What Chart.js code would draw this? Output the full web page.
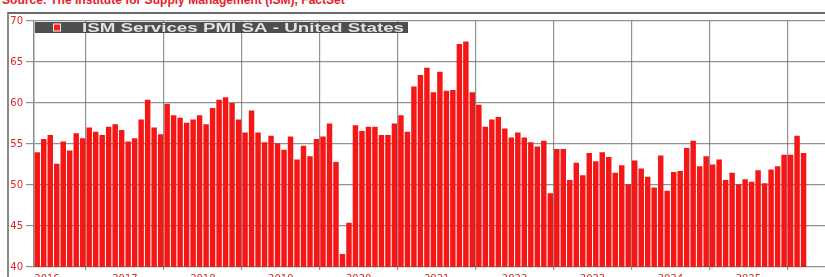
<!DOCTYPE html>
<html>
<head>
<meta charset="utf-8">
<script src="https://cdn.jsdelivr.net/npm/chart.js@4.4.1/dist/chart.umd.min.js"></script>
<style>
  html, body { margin: 0; padding: 0; background: #fff; overflow: hidden; }
  #wrap { position: relative; width: 825px; height: 290px; }
  #frame { position: absolute; left: 7px; top: 12px; width: 830px; height: 300px;
           border-top: 2px solid #6a6a6a; border-left: 2px solid #8a8a8a; }
  #source { position: absolute; left: 2px; top: -8px; white-space: nowrap;
            font: bold 13px "Liberation Sans", Arial, sans-serif; color: #e8202a;
            transform-origin: 0 0; }
  #chartBox { position: absolute; left: 0; top: 0; width: 825px; height: 290px; }
</style>
</head>
<body>
<div id="wrap">
  <div id="source">Source: The Institute for Supply Management (ISM), FactSet</div>
  <div id="frame"></div>
  <div id="chartBox"><canvas id="pmiChart"></canvas></div>
</div>
<script>
// monthly ISM Services PMI
const seriesName = 'ISM Services PMI SA - United States';
const startYear = 2016, startMonth = 5;   // first bar in the picture
const pmiValues = [
  54.0, 55.6, 56.1, 52.6, 55.3, 54.2, 56.3, 55.7, 57.0, 56.5, 56.1, 57.1,
  57.4, 56.7, 55.3, 55.7, 58.0, 60.4, 57.0, 56.2, 59.9, 58.5, 58.2, 57.6,
  58.0, 58.5, 57.4, 59.4, 60.4, 60.7, 60.0, 58.0, 56.4, 59.1, 56.4, 55.2,
  56.0, 55.1, 54.3, 55.9, 53.1, 54.8, 53.5, 55.6, 55.9, 57.5, 52.8, 41.6,
  45.4, 57.3, 56.6, 57.1, 57.1, 56.1, 56.1, 57.5, 58.5, 56.5, 62.0, 63.4,
  64.3, 61.3, 63.8, 61.5, 61.6, 67.2, 67.5, 61.3, 59.8, 57.1, 58.0, 58.3,
  56.9, 55.8, 56.4, 55.8, 55.2, 54.7, 55.4, 49.0, 54.4, 54.4, 50.6, 52.7,
  51.2, 53.9, 52.9, 54.0, 53.4, 51.5, 52.4, 50.1, 53.0, 52.0, 51.0, 49.7,
  53.6, 49.3, 51.6, 51.7, 54.5, 55.4, 52.3, 53.5, 52.5, 53.1, 50.6, 51.5,
  50.1, 50.7, 50.4, 51.8, 50.2, 51.9, 52.3, 53.7, 53.7, 56.0, 53.9
];
const yearLabels = ['2016', '2017', '2018', '2019', '2020', '2021', '2022', '2023', '2024', '2025'];
const yTicks = [40, 45, 50, 55, 60, 65, 70];

// month categories for each bar
const monthLabels = pmiValues.map(function (v, i) {
    const m = startMonth - 1 + i;
    return (startYear + Math.floor(m / 12)) + '-' + String(m % 12 + 1).padStart(2, '0');
});

// x positions: bar i sits at i, year boundaries fall between Dec and Jan
const firstJan = 12 - startMonth + 1;
const boundaryTicks = [];
const labelTicks = {};
yearLabels.forEach(function (y, k) {
    const b = firstJan - 0.5 + 12 * (Number(y) - startYear - 1);
    if (b > -0.5) boundaryTicks.push(b);
    labelTicks[b + 6] = y;
});
boundaryTicks.push(boundaryTicks[boundaryTicks.length - 1] + 12);

const gridColor = 'rgba(110,110,110,0.75)';
const redText = '#e0242a';

// legend box drawn over the top of the plot
const legendBox = {
    id: 'legendBox',
    afterDraw(chart) {
        const ctx = chart.ctx;
        const left = chart.chartArea.left;
        ctx.save();
        ctx.fillStyle = '#4e4e4e';
        ctx.fillRect(left + 1, 22, 373, 11);
        ctx.fillStyle = '#f4f4f4';
        ctx.fillRect(left + 19, 23.5, 8, 8);
        ctx.fillStyle = '#ff1a1a';
        ctx.fillRect(left + 20, 24.5, 6, 6);
        ctx.font = 'bold 12.5px "Liberation Sans", Arial, sans-serif';
        const w = ctx.measureText(seriesName).width;
        ctx.translate(left + 48, 32);
        ctx.scale(322 / w, 1);
        ctx.fillStyle = '#e2e2e2';
        ctx.textBaseline = 'alphabetic';
        ctx.fillText(seriesName, 0, 0);
        ctx.restore();
    }
};

const ctx = document.getElementById('pmiChart').getContext('2d');
new Chart(ctx, {
    type: 'bar',
    data: {
        datasets: [{
            label: seriesName,
            data: pmiValues.map(function (v, i) { return { x: i, y: v, month: monthLabels[i] }; }),
            backgroundColor: '#f51616',
            borderWidth: 0,
            barPercentage: 0.84,
            categoryPercentage: 1.0
        }]
    },
    options: {
        responsive: true,
        maintainAspectRatio: false,
        animation: false,
        layout: { padding: { top: 21, right: 0, bottom: 5, left: 0 } },
        plugins: {
            legend: { display: false },
            tooltip: { enabled: false }
        },
        scales: {
            x: {
                type: 'linear',
                offset: false,
                min: -0.5,
                max: 121.3,
                afterBuildTicks: function (scale) {
                    const vals = boundaryTicks.concat(Object.keys(labelTicks).map(Number));
                    vals.sort(function (a, b) { return a - b; });
                    scale.ticks = vals.map(function (v) { return { value: v }; });
                },
                afterFit: function (scale) { scale.height = 18; },
                ticks: {
                    autoSkip: false,
                    maxRotation: 0,
                    padding: 3,
                    color: redText,
                    font: { family: 'DejaVu Sans', size: 10 },
                    callback: function (value) { return labelTicks[value] || ''; }
                },
                grid: {
                    offset: false,
                    color: function (c) {
                        return c.tick && labelTicks[c.tick.value] ? 'rgba(0,0,0,0)' : gridColor;
                    },
                    lineWidth: 1.2,
                    tickLength: 3
                },
                border: { display: false }
            },
            y: {
                min: 40,
                max: 70,
                afterBuildTicks: function (scale) {
                    scale.ticks = yTicks.map(function (v) { return { value: v }; });
                },
                afterFit: function (scale) { scale.width = 34; },
                ticks: {
                    padding: 3,
                    color: redText,
                    font: { family: 'DejaVu Sans', size: 10 }
                },
                grid: { color: gridColor, lineWidth: 1.2, tickLength: 8 },
                border: { color: '#8a8a8a', width: 1.5 }
            }
        }
    },
    plugins: [legendBox]
});

// stretch the source line to the width it has in the picture
const src = document.getElementById('source');
src.style.transform = 'scaleX(' + (343 / src.offsetWidth) + ')';
</script>
</body>
</html>
